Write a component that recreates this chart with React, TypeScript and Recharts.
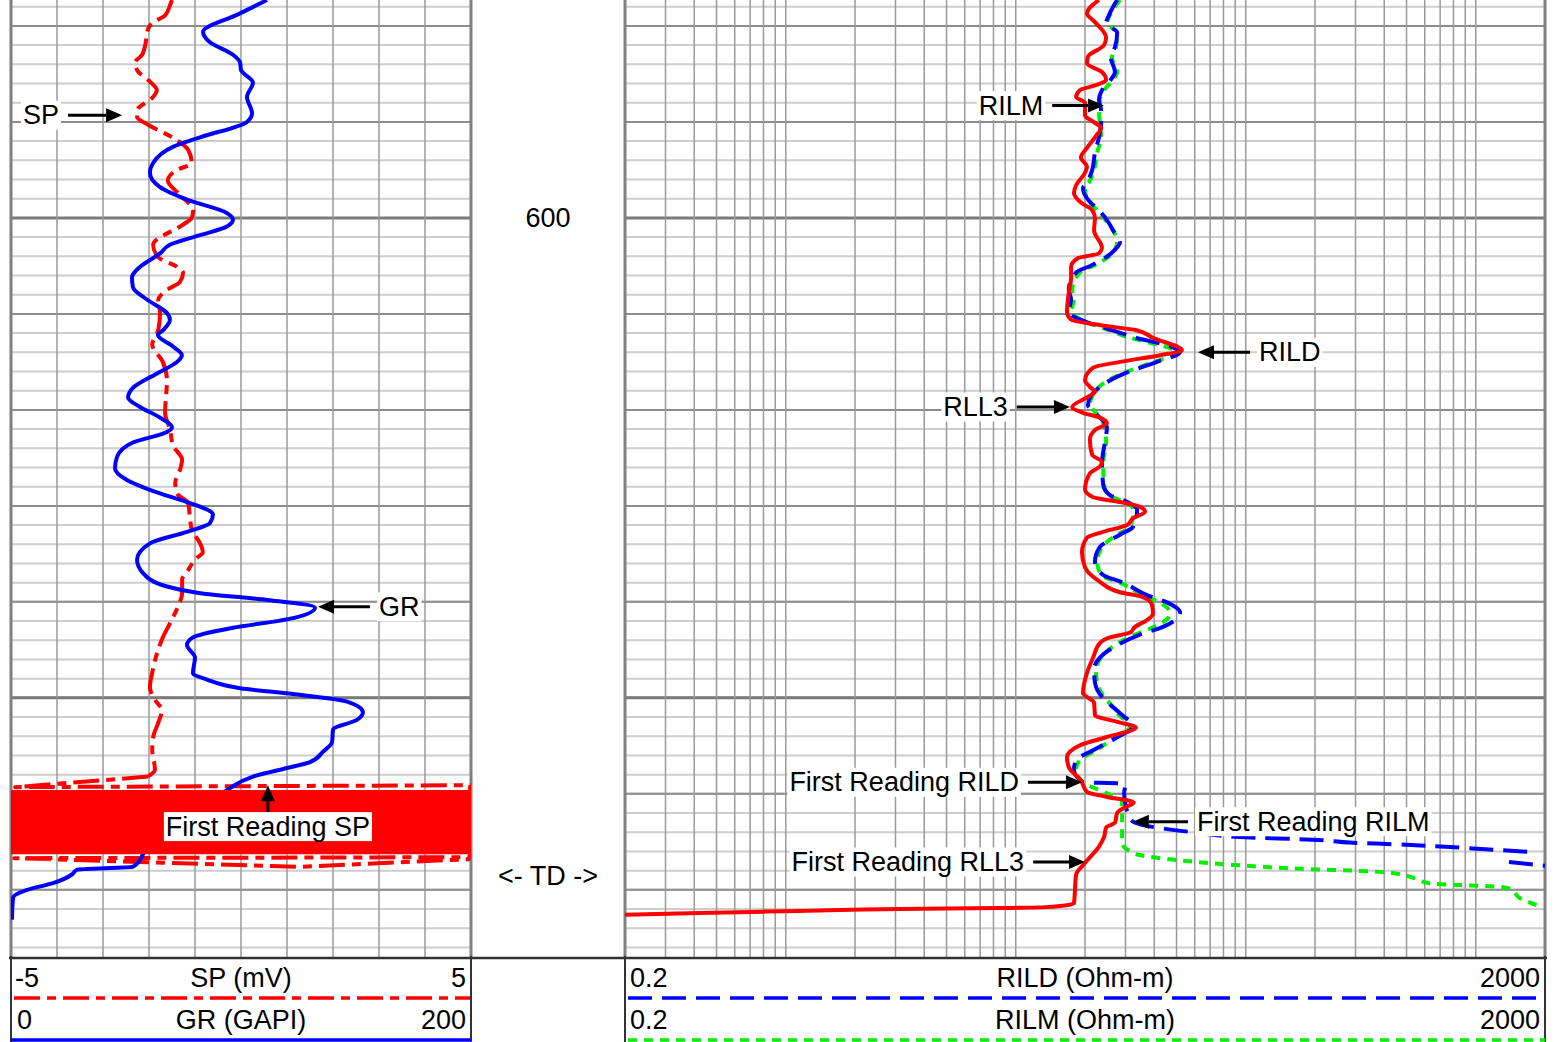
import React from 'react';
import { LineChart, Line, XAxis, YAxis, ReferenceLine, ReferenceArea } from 'recharts';

// [depth (ft), reading]
type Sample = [number, number | null];
// from / to are [reading, depth]
type Note = { text: string; from: [number, number]; to: [number, number] };

const FONT = '"Liberation Sans", Arial, Helvetica, sans-serif';
const FS = 27;

const depthDomain: [number, number] = [577.3, 677.1];
const depthLabels = [600];
const tdDepth = 668.6;

const minorDepths = [578, 580, 582, 584, 586, 588, 590, 592, 594, 596, 598, 600, 602, 604, 606, 608, 610, 612, 614, 616, 618, 620, 622, 624, 626, 628, 630, 632, 634, 636, 638, 640, 642, 644, 646, 648, 650, 652, 654, 656, 658, 660, 662, 664, 666, 668, 670, 672, 674, 676];
const majorDepths = [580, 590, 600, 610, 620, 630, 640, 650, 660, 670];
const heavyDepths = [600, 650];

const spTicks = [-4, -3, -2, -1, 0, 1, 2, 3, 4];
const spEdges = [-5, 5];
const resTicks = [0.3, 0.4, 0.5, 0.6, 0.7, 0.8, 0.9, 1, 2, 3, 4, 5, 6, 7, 8, 9, 10, 20, 30, 40, 50, 60, 70, 80, 90, 100, 200, 300, 400, 500, 600, 700, 800, 900, 1000];
const resEdges = [0.2, 2000];

// gamma ray (GAPI)
const GR: Sample[] = [
  [577.3, 111.3], [578.8, 98.7], [580.6, 83.5], [581.7, 86.5], [583.0, 96.5], [583.8, 99.6], [584.6, 100.0], [585.9, 105.2],
  [587.4, 102.6], [589.1, 104.8], [590.0, 102.6], [591.6, 82.2], [592.6, 70.4], [594.3, 61.7], [595.3, 60.4], [596.8, 64.8],
  [598.1, 76.5], [599.5, 93.9], [600.2, 96.5], [600.9, 93.9], [601.8, 82.2], [602.8, 69.1], [603.7, 64.8], [605.1, 56.1],
  [606.2, 52.6], [607.2, 53.0], [608.5, 59.1], [609.9, 67.8], [610.6, 69.1], [611.7, 66.1], [612.2, 63.9], [613.4, 70.4],
  [614.3, 74.3], [615.0, 72.2], [616.2, 63.5], [617.7, 53.0], [618.7, 50.9], [619.7, 56.1], [620.8, 64.8], [621.8, 70.0],
  [622.3, 67.8], [623.4, 53.0], [624.9, 46.1], [626.1, 45.2], [627.3, 50.4], [628.7, 64.8], [629.6, 76.5], [630.9, 87.8],
  [631.8, 86.5], [632.7, 76.5], [633.9, 60.4], [635.6, 54.8], [637.0, 57.4], [638.4, 67.8], [639.1, 82.2], [639.8, 111.3],
  [640.6, 132.2], [641.8, 120.4], [642.7, 96.5], [643.7, 79.1], [644.5, 76.5], [645.8, 80.0], [647.4, 79.1], [648.1, 85.2],
  [649.0, 99.6], [649.6, 122.6], [650.4, 146.1], [651.5, 153.0], [652.3, 150.4], [653.3, 140.0], [654.6, 139.6], [655.6, 135.7],
  [656.7, 130.0], [657.3, 120.0], [658.2, 105.2], [659.4, 95.2], [660.6, 89.6], [661.9, 88.7], [663.1, 84.3], [664.2, 77.0],
  [664.8, 70.0], [665.6, 60.4], [667.6, 53.0], [667.9, 28.7], [668.4, 26.5], [669.3, 18.3], [670.0, 7.0], [670.8, 0.9], [673.1, 0.4],
];

// spontaneous potential (mV), logged part
const SP: Sample[] = [
  [577.3, -1.5], [577.8, -1.54], [578.9, -1.65], [579.7, -1.93], [580.6, -2.04], [581.7, -2.07], [583.0, -2.15], [583.8, -2.3],
  [584.6, -2.26], [585.8, -1.98], [586.7, -1.83], [587.5, -1.93], [588.8, -2.26], [589.5, -2.26], [590.3, -2.02], [591.9, -1.39],
  [592.9, -1.15], [594.3, -1.07], [595.0, -1.39], [596.1, -1.59], [597.6, -1.33], [599.2, -1.04], [600.0, -1.07], [600.7, -1.26],
  [602.8, -1.91], [604.1, -1.8], [605.1, -1.39], [605.7, -1.26], [606.7, -1.33], [607.5, -1.61], [608.6, -1.8], [609.9, -1.76],
  [611.7, -1.8], [613.2, -1.93], [615.0, -1.7], [616.9, -1.61], [620.3, -1.65], [622.1, -1.54], [623.7, -1.48], [625.2, -1.28],
  [626.3, -1.33], [627.6, -1.43], [628.7, -1.39], [629.7, -1.15], [631.2, -1.11], [632.5, -1.07], [633.9, -0.89], [634.8, -0.83],
  [635.6, -1.0], [636.7, -1.15], [637.7, -1.28], [639.1, -1.28], [640.5, -1.37], [642.2, -1.54], [643.7, -1.7], [645.0, -1.8],
  [646.1, -1.87], [647.4, -1.93], [648.9, -1.98], [650.2, -1.87], [651.3, -1.72], [652.6, -1.8], [654.1, -1.91], [655.4, -1.93],
  [657.5, -1.87], [658.2, -2.02],
];
// SP below its first reading: swings across the whole track
const SP_TAIL: Sample[] = [
  [658.2, -2.02], [659.3, -4.91], [659.1, 4.98], [666.6, 4.98], [666.7, -4.93], [667.6, 1.28], [666.8, 4.98],
];
// depth interval where SP swings full scale
const spSaturated = [659.6, 666.3];

// shallow laterolog (ohm-m)
const RLL3: Sample[] = [
  [577.3, 23.0], [578.7, 20.4], [579.6, 22.1], [581.2, 24.7], [582.0, 24.2], [583.2, 20.6], [583.9, 20.4], [584.8, 23.7],
  [585.6, 24.7], [586.2, 22.1], [586.7, 19.0], [587.4, 18.3], [588.0, 20.0], [589.3, 20.0], [590.1, 22.1], [590.6, 23.5],
  [591.6, 22.1], [592.7, 20.4], [593.7, 19.2], [594.7, 20.4], [595.3, 20.0], [596.6, 18.3], [597.4, 17.9], [598.4, 19.2],
  [599.2, 21.5], [600.0, 22.1], [601.3, 21.9], [603.1, 23.7], [603.7, 23.0], [604.2, 18.6], [605.1, 17.4], [606.2, 17.4],
  [607.8, 17.0], [609.8, 16.7], [610.6, 17.4], [611.2, 23.7], [611.7, 33.5], [612.5, 39.5], [613.8, 52.8], [614.3, 42.4],
  [615.0, 28.4], [615.6, 21.7], [616.9, 20.0], [617.6, 21.0], [618.1, 22.1], [618.7, 20.4], [619.7, 17.6], [620.3, 19.6],
  [620.8, 23.2], [621.4, 24.9], [622.1, 22.1], [623.1, 21.0], [624.7, 21.5], [625.4, 23.7], [625.9, 23.2], [626.6, 21.0],
  [628.3, 20.0], [629.1, 21.7], [629.6, 28.4], [630.1, 34.7], [630.6, 36.5], [631.3, 32.3], [632.0, 30.5], [632.7, 24.0],
  [633.3, 20.4], [634.8, 19.4], [636.4, 20.0], [637.9, 23.2], [639.0, 28.4], [639.5, 35.7], [640.3, 39.1], [641.2, 39.5],
  [641.9, 37.2], [642.6, 33.0], [643.2, 31.4], [643.7, 25.7], [644.3, 23.2], [645.8, 21.7], [647.4, 20.4], [649.5, 19.6],
  [650.5, 21.9], [651.8, 22.1], [652.5, 27.6], [653.1, 33.3], [654.1, 24.7], [654.9, 19.2], [656.2, 16.7], [657.2, 17.0],
  [658.6, 19.2], [659.8, 20.4], [660.3, 24.7], [660.9, 32.6], [661.4, 29.9], [662.0, 27.6], [663.0, 27.0], [663.5, 24.7],
  [664.5, 24.2], [665.5, 23.0], [667.2, 20.0], [668.4, 18.3], [671.4, 17.9], [671.8, 13.5], [671.9, 8.54], [672.0, 3.14],
  [672.2, 1.15], [672.4, 0.42], [672.6, 0.2],
];

// deep induction (ohm-m)
const RILD: Sample[] = [
  [577.3, 27.6], [578.0, 26.5], [579.1, 25.2], [579.7, 24.7], [580.7, 27.6], [582.2, 27.0], [583.3, 25.9], [584.8, 27.0],
  [585.6, 25.9], [586.7, 23.7], [587.7, 23.0], [588.8, 23.5], [590.1, 23.5], [591.6, 23.0], [593.2, 22.1], [595.0, 21.5],
  [596.3, 20.4], [596.9, 19.6], [598.1, 20.6], [599.2, 23.0], [600.4, 25.2], [601.3, 26.5], [602.5, 28.4], [603.3, 27.0],
  [604.1, 24.7], [604.9, 21.5], [605.7, 18.3], [607.5, 17.0], [608.5, 17.4], [609.8, 17.0], [610.4, 18.3], [610.9, 20.6],
  [611.5, 24.7], [612.4, 32.3], [613.5, 48.3], [614.0, 51.8], [615.0, 41.1], [616.1, 30.5], [617.6, 23.2], [619.5, 20.6],
  [620.3, 22.1], [621.8, 24.9], [623.4, 24.4], [625.5, 23.7], [627.8, 24.0], [628.9, 25.7], [629.4, 29.3], [630.4, 33.7],
  [632.2, 32.3], [633.0, 28.4], [634.3, 23.2], [635.8, 22.1], [637.2, 24.0], [638.0, 29.3], [639.3, 37.2], [640.1, 45.9],
  [641.1, 51.8], [641.6, 50.7], [642.6, 43.7], [643.4, 34.7], [644.5, 27.6], [645.8, 23.2], [647.1, 21.9], [648.4, 22.1],
  [649.9, 23.7], [650.7, 25.7], [651.6, 28.4], [653.0, 32.3], [654.1, 27.6], [655.4, 21.9], [656.5, 18.3], [657.5, 17.9],
  [658.8, 19.6], [658.9, 27.6], [659.1, 29.9], [659.9, 29.6], [660.9, 29.9], [662.7, 31.7], [663.2, 35.0], [664.0, 59.0],
  [664.5, 94.4], [664.8, 206], [665.1, 293], [665.3, 498], [665.6, 845], [666.1, 1845], [666.6, null], [667.1, 1394], [667.5, 2020],
];

// medium induction (ohm-m)
const RILM: Sample[] = [
  [577.3, 28.4], [578.0, 27.0], [579.1, 25.4], [579.7, 24.9], [580.7, 27.6], [582.2, 27.3], [583.3, 26.2], [584.8, 27.6],
  [585.6, 26.5], [586.7, 24.2], [587.7, 23.2], [588.8, 23.0], [590.1, 23.2], [591.6, 23.5], [593.2, 22.6], [595.0, 21.9],
  [596.3, 20.8], [596.9, 20.0], [598.1, 20.4], [599.2, 22.6], [600.4, 24.9], [601.3, 26.5], [602.5, 27.6], [603.3, 27.0],
  [604.1, 25.2], [604.9, 22.1], [605.7, 19.0], [607.5, 17.6], [608.5, 17.9], [609.8, 17.4], [610.4, 18.6], [610.9, 20.4],
  [611.5, 24.2], [612.4, 30.5], [613.5, 45.9], [614.0, 50.7], [615.0, 40.0], [616.1, 29.9], [617.6, 23.0], [619.5, 21.0],
  [620.3, 22.3], [621.8, 24.4], [623.4, 24.7], [625.5, 24.0], [627.8, 24.2], [628.9, 25.2], [629.4, 28.4], [630.4, 32.6],
  [632.2, 31.4], [633.0, 27.6], [634.3, 23.7], [635.8, 22.6], [637.2, 23.5], [638.0, 28.4], [639.3, 35.7], [640.1, 42.4],
  [641.1, 46.8], [641.6, 46.2], [642.6, 40.0], [643.4, 33.0], [644.5, 27.0], [645.8, 23.5], [647.1, 22.3], [648.4, 22.6],
  [649.9, 24.2], [650.7, 25.9], [651.6, 27.6], [653.0, 31.4], [654.1, 27.0], [655.4, 22.6], [656.5, 19.0], [657.5, 18.3],
  [658.8, 19.6], [659.1, 20.6], [659.9, 24.7], [660.8, 29.0], [662.7, 29.0], [665.1, 29.0], [665.8, 30.5], [666.4, 35.0],
  [666.9, 50.2], [667.4, 88.0], [667.8, 172], [668.0, 293], [668.2, 419], [669.0, 572], [669.3, 620], [669.5, 845],
  [669.7, 1300], [670.0, 1438], [670.8, 1542], [671.6, 1845],
];

const leftNotes: Note[] = [
  { text: 'SP', from: [24.8, 589.3], to: [48.3, 589.3] },
  { text: 'GR', from: [156.1, 640.5], to: [133.5, 640.5] },
  { text: 'First Reading SP', from: [111.7, 661.9], to: [111.7, 659.1] },
];

const rightNotes: Note[] = [
  { text: 'RILM', from: [14.4, 588.3], to: [24.2, 588.3] },
  { text: 'RILD', from: [104.4, 614.0], to: [62.0, 614.0] },
  { text: 'RLL3', from: [10.1, 619.7], to: [17.2, 619.7] },
  { text: 'First Reading RILD', from: [11.3, 658.8], to: [19.4, 658.8] },
  { text: 'First Reading RILM', from: [56.1, 662.9], to: [32.3, 662.9] },
  { text: 'First Reading RLL3', from: [11.9, 667.1], to: [20.0, 667.1] },
];

const rows = (s: Sample[]) => s.map(([d, v]) => ({ d, v }));

const glyph: Record<string, number> = {
  ' ': 0.278, '-': 0.333, '(': 0.333, ')': 0.333, '.': 0.278, I: 0.278, L: 0.556, F: 0.611, M: 0.833,
  P: 0.667, R: 0.722, S: 0.667, D: 0.722, G: 0.778, i: 0.222, r: 0.333, s: 0.5, t: 0.278, m: 0.833,
};
const textWidth = (s: string) =>
  [...s].reduce((w, c) => w + (glyph[c] ?? (c >= 'A' && c <= 'Z' ? 0.7 : 0.556)), 0) * FS;

// arrow with a boxed label sitting behind its tail
const Arrow = (props: any) => {
  const { x1, y1, x2, y2, text } = props;
  const dx = x2 - x1;
  const dy = y2 - y1;
  const len = Math.hypot(dx, dy) || 1;
  const ux = dx / len;
  const uy = dy / len;
  const head = 16;
  const half = 7;
  const bx = x2 - ux * head;
  const by = y2 - uy * head;
  const pts = `${x2},${y2} ${bx - uy * half},${by + ux * half} ${bx + uy * half},${by - ux * half}`;
  const w = textWidth(text) + 4;
  const h = FS + 2;
  let tx = x1;
  let ty = y1;
  let anchor: 'start' | 'end' | 'middle' = 'middle';
  if (Math.abs(ux) > Math.abs(uy)) {
    if (ux > 0) { tx = x1 - 9; anchor = 'end'; } else { tx = x1 + 9; anchor = 'start'; }
  } else {
    ty = y1 + (uy < 0 ? h / 2 : -h / 2);
  }
  const rx = anchor === 'end' ? tx - w + 2 : anchor === 'start' ? tx - 2 : tx - w / 2;
  return (
    <g>
      <line x1={x1} y1={y1} x2={bx} y2={by} stroke="#000" strokeWidth={3} />
      <polygon points={pts} fill="#000" />
      <rect x={rx} y={ty - h / 2} width={w} height={h} fill="#fff" />
      <text x={tx} y={ty} textAnchor={anchor} dominantBaseline="central" fontFamily={FONT} fontSize={FS} fill="#000">
        {text}
      </text>
    </g>
  );
};

const DepthTick = (props: any) => {
  const { x, y, payload } = props;
  const label = payload.value === tdDepth ? '<- TD ->' : String(payload.value);
  return (
    <text x={x + 77} y={y} textAnchor="middle" dominantBaseline="central" fontFamily={FONT} fontSize={FS} fill="#000">
      {label}
    </text>
  );
};

const depthGrid = (xId: string) => [
  ...minorDepths.map((d) => (
    <ReferenceLine key={`n${d}`} xAxisId={xId} yAxisId="d" y={d} stroke="#cdcdcd" strokeWidth={2} zIndex={-100} />
  )),
  ...majorDepths.map((d) => (
    <ReferenceLine key={`j${d}`} xAxisId={xId} yAxisId="d" y={d} stroke="#8c8c8c" strokeWidth={2} zIndex={-100} />
  )),
  ...heavyDepths.map((d) => (
    <ReferenceLine key={`h${d}`} xAxisId={xId} yAxisId="d" y={d} stroke="#7a7a7a" strokeWidth={3} zIndex={-100} />
  )),
];

const valueGrid = (xId: string, ticks: number[], edges: number[]) => [
  ...ticks.map((v) => (
    <ReferenceLine key={`v${v}`} xAxisId={xId} yAxisId="d" x={v} stroke="#9a9a9a" strokeWidth={1.5} zIndex={-100} />
  )),
  ...edges.map((v) => (
    <ReferenceLine key={`e${v}`} xAxisId={xId} yAxisId="d" x={v} stroke="#808080" strokeWidth={3} zIndex={-100} />
  )),
];

const notes = (xId: string, list: Note[]) =>
  list.map((n) => (
    <ReferenceLine
      key={n.text}
      xAxisId={xId}
      yAxisId="d"
      segment={[{ x: n.from[0], y: n.from[1] }, { x: n.to[0], y: n.to[1] }]}
      ifOverflow="visible"
      zIndex={2000}
      shape={(p: any) => <Arrow {...p} text={n.text} />}
    />
  ));

const curve = {
  dataKey: 'd',
  yAxisId: 'd',
  strokeWidth: 4,
  strokeLinejoin: 'round' as const,
  dot: false,
  activeDot: false,
  isAnimationActive: false,
};

const LeftTrack = () => (
  <LineChart width={616} height={958} margin={{ top: 0, right: 0, bottom: 0, left: 2 }}>
    <XAxis xAxisId="gr" dataKey="v" type="number" domain={[0, 200]} allowDataOverflow hide />
    <XAxis xAxisId="sp" dataKey="v" type="number" domain={[-5, 5]} allowDataOverflow hide />
    <YAxis
      yAxisId="d"
      type="number"
      domain={depthDomain}
      reversed
      allowDataOverflow
      orientation="right"
      width={154}
      ticks={[...depthLabels, tdDepth]}
      interval={0}
      tick={DepthTick}
      tickSize={0}
      tickMargin={0}
      axisLine={false}
      tickLine={false}
    />
    {depthGrid('sp')}
    {valueGrid('sp', spTicks, spEdges)}
    <Line {...curve} xAxisId="sp" data={rows(SP)} type="monotoneY" stroke="#ff0000" strokeDasharray="26 7 9 7" />
    <Line {...curve} xAxisId="sp" data={rows(SP_TAIL)} type="linear" stroke="#ff0000" strokeDasharray="26 7 9 7" />
    <Line {...curve} xAxisId="gr" data={rows(GR)} type="monotoneY" stroke="#0000ff" />
    <ReferenceArea xAxisId="sp" yAxisId="d" x1={-5} x2={5} y1={spSaturated[0]} y2={spSaturated[1]}
      fill="#ff0000" fillOpacity={1} stroke="none" zIndex={450} />
    {notes('gr', leftNotes)}
  </LineChart>
);

const RightTrack = () => (
  <LineChart width={924} height={958} margin={{ top: 0, right: 2, bottom: 0, left: 2 }}>
    <XAxis xAxisId="res" dataKey="v" type="number" scale="log" domain={[0.2, 2000]} allowDataOverflow hide />
    <YAxis yAxisId="d" type="number" domain={depthDomain} reversed allowDataOverflow hide />
    {depthGrid('res')}
    {valueGrid('res', resTicks, resEdges)}
    <Line {...curve} xAxisId="res" data={rows(RILM)} type="monotoneY" stroke="#00f000" strokeDasharray="9 7" />
    <Line {...curve} xAxisId="res" data={rows(RILD)} type="monotoneY" stroke="#0000ff" strokeDasharray="24 10" />
    <Line {...curve} xAxisId="res" data={rows(RLL3)} type="monotoneY" stroke="#ff0000" />
    {notes('res', rightNotes)}
  </LineChart>
);

const Header = () => {
  const txt = (x: number, y: number, s: string, anchor: 'start' | 'middle' | 'end') => (
    <text x={x} y={y} textAnchor={anchor} dominantBaseline="central" fontFamily={FONT} fontSize={FS} fill="#000">
      {s}
    </text>
  );
  return (
    <svg width={1554} height={88} style={{ position: 'absolute', left: 0, top: 956 }}>
      <line x1={9} y1={2} x2={1547} y2={2} stroke="#333" strokeWidth={2.5} />
      {[11, 471, 625, 1545].map((x) => (
        <line key={x} x1={x} y1={0} x2={x} y2={88} stroke="#333" strokeWidth={2} />
      ))}
      {txt(15, 22, '-5', 'start')}
      {txt(241, 22, 'SP (mV)', 'middle')}
      {txt(466, 22, '5', 'end')}
      <line x1={14} y1={42} x2={470} y2={42} stroke="#ff0000" strokeWidth={3.5} strokeDasharray="26 7 9 7" />
      {txt(17, 64, '0', 'start')}
      {txt(241, 64, 'GR (GAPI)', 'middle')}
      {txt(466, 64, '200', 'end')}
      <line x1={11} y1={84} x2={471} y2={84} stroke="#0000ff" strokeWidth={3.5} />
      {txt(630, 22, '0.2', 'start')}
      {txt(1085, 22, 'RILD (Ohm-m)', 'middle')}
      {txt(1540, 22, '2000', 'end')}
      <line x1={628} y1={42} x2={1545} y2={42} stroke="#0000ff" strokeWidth={3.5} strokeDasharray="24 10" />
      {txt(630, 64, '0.2', 'start')}
      {txt(1085, 64, 'RILM (Ohm-m)', 'middle')}
      {txt(1540, 64, '2000', 'end')}
      <line x1={628} y1={84} x2={1545} y2={84} stroke="#00f000" strokeWidth={3.5} strokeDasharray="9 7" />
    </svg>
  );
};

export default function App() {
  return (
    <div style={{ position: 'absolute', left: 0, top: 0, width: 1554, height: 1042, background: '#fff', overflow: 'hidden' }}>
      <div style={{ position: 'absolute', left: 9, top: 0 }}>
        <LeftTrack />
      </div>
      <div style={{ position: 'absolute', left: 623, top: 0 }}>
        <RightTrack />
      </div>
      <Header />
    </div>
  );
}
